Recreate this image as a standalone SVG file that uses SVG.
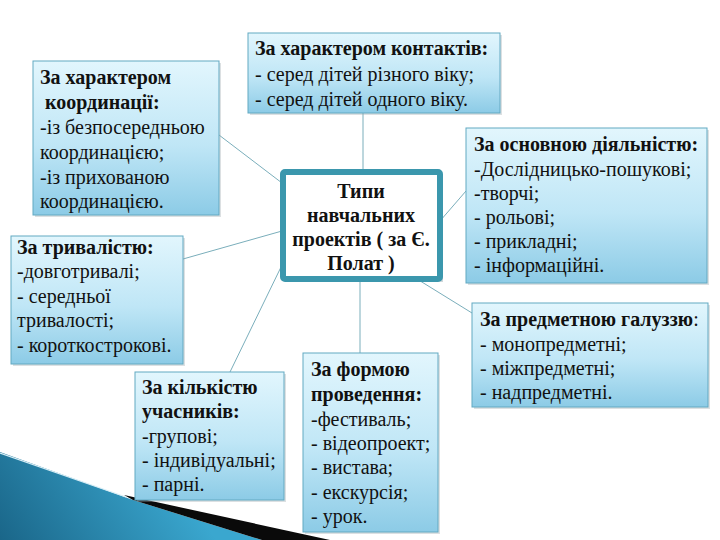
<svg xmlns="http://www.w3.org/2000/svg" width="720" height="540" viewBox="0 0 720 540">
<defs>
<linearGradient id="boxGrad" x1="0" y1="0" x2="0" y2="1">
<stop offset="0" stop-color="#e2f6fd"/>
<stop offset="0.55" stop-color="#bfe6f6"/>
<stop offset="1" stop-color="#8ccbe6"/>
</linearGradient>
<linearGradient id="swoosh2" gradientUnits="userSpaceOnUse" x1="0" y1="540" x2="150" y2="440">
<stop offset="0" stop-color="#1a6689"/>
<stop offset="1" stop-color="#3aa7cf"/>
</linearGradient>
</defs>
<style>
.box{fill:url(#boxGrad);stroke:#62a9c2;stroke-width:1}
.shadow{fill:#9aa7ad;opacity:0.35}
.t{font-family:"Liberation Serif","Times New Roman",serif;font-size:20px;fill:#111}
.b{font-weight:bold}
.center{fill:#ffffff;stroke:#3b97ad;stroke-width:6}
.conn{stroke:#7aaebb;stroke-width:1;fill:none}
</style>
<rect width="720" height="540" fill="#ffffff"/>

<g id="decoration">
<polygon points="0,452 133,500 262,540 0,540" fill="url(#swoosh2)"/>
<polygon points="124,495 330,540 262,540 133,500" fill="#0a0a0a"/>
<line x1="0" y1="453" x2="126" y2="497" stroke="#d8eef6" stroke-width="1.2"/>
</g>

<g id="connectors">
<line class="conn" x1="363" y1="113" x2="363" y2="172"/>
<line class="conn" x1="219" y1="135" x2="282" y2="183"/>
<line class="conn" x1="183" y1="259" x2="282" y2="231"/>
<line class="conn" x1="230" y1="372" x2="282" y2="265"/>
<line class="conn" x1="360" y1="279" x2="360" y2="353"/>
<line class="conn" x1="440" y1="221" x2="466" y2="191"/>
<line class="conn" x1="417" y1="279" x2="472" y2="313"/>
</g>

<g id="node-contacts">
<rect class="shadow" x="250" y="35" width="252" height="80"/>
<rect class="box" x="248" y="33" width="252" height="80"/>
<text class="t b" x="255" y="55">За характером контактів:</text>
<text class="t" x="255" y="81">- серед дітей різного віку;</text>
<text class="t" x="255" y="106">- серед дітей одного віку.</text>
</g>

<g id="node-coordination">
<rect class="shadow" x="35" y="63" width="186" height="154"/>
<rect class="box" x="33" y="61" width="186" height="154"/>
<text class="t b" x="40" y="84">За характером</text>
<text class="t b" x="45" y="109">координації:</text>
<text class="t" x="40" y="134">-із безпосередньою</text>
<text class="t" x="40" y="159">координацією;</text>
<text class="t" x="40" y="184">-із прихованою</text>
<text class="t" x="40" y="208">координацією.</text>
</g>

<g id="node-center">
<rect x="286" y="175" width="157" height="107" fill="#8d9ea5" opacity="0.4"/>
<rect class="center" x="283" y="172" width="157" height="107" rx="2"/>
<text class="t b" x="361" y="198" text-anchor="middle">Типи</text>
<text class="t b" x="361" y="222" text-anchor="middle">навчальних</text>
<text class="t b" x="361" y="246" text-anchor="middle">проектів ( за Є.</text>
<text class="t b" x="361" y="270" text-anchor="middle">Полат )</text>
</g>

<g id="node-duration">
<rect class="shadow" x="13" y="238" width="172" height="128"/>
<rect class="box" x="11" y="236" width="172" height="128"/>
<text class="t b" x="17" y="254">За тривалістю:</text>
<text class="t" x="17" y="278">-довготривалі;</text>
<text class="t" x="17" y="303">- середньої</text>
<text class="t" x="17" y="327">тривалості;</text>
<text class="t" x="17" y="352">- короткострокові.</text>
</g>

<g id="node-participants">
<rect class="shadow" x="137" y="374" width="149" height="128"/>
<rect class="box" x="135" y="372" width="149" height="128"/>
<text class="t b" x="142" y="394">За кількістю</text>
<text class="t b" x="142" y="418">учасників:</text>
<text class="t" x="142" y="443">-групові;</text>
<text class="t" x="142" y="467">- індивідуальні;</text>
<text class="t" x="142" y="491">- парні.</text>
</g>

<g id="node-form">
<rect class="shadow" x="305" y="355" width="135" height="179"/>
<rect class="box" x="303" y="353" width="135" height="179"/>
<text class="t b" x="311" y="376">За формою</text>
<text class="t b" x="311" y="401">проведення:</text>
<text class="t" x="311" y="426">-фестиваль;</text>
<text class="t" x="311" y="450">- відеопроект;</text>
<text class="t" x="311" y="474">- вистава;</text>
<text class="t" x="311" y="499">- екскурсія;</text>
<text class="t" x="311" y="523">- урок.</text>
</g>

<g id="node-activity">
<rect class="shadow" x="468" y="130" width="241" height="155"/>
<rect class="box" x="466" y="128" width="241" height="155"/>
<text class="t b" x="474" y="151">За основною діяльністю:</text>
<text class="t" x="474" y="176">-Дослідницько-пошукові;</text>
<text class="t" x="474" y="200">-творчі;</text>
<text class="t" x="474" y="224">- рольові;</text>
<text class="t" x="474" y="248">- прикладні;</text>
<text class="t" x="474" y="272">- інформаційні.</text>
</g>

<g id="node-subject">
<rect class="shadow" x="474" y="305" width="236" height="104"/>
<rect class="box" x="472" y="303" width="236" height="104"/>
<text class="t" x="480" y="326"><tspan class="b">За предметною галуззю</tspan>:</text>
<text class="t" x="480" y="351">- монопредметні;</text>
<text class="t" x="480" y="375">- міжпредметні;</text>
<text class="t" x="480" y="399">- надпредметні.</text>
</g>
</svg>
